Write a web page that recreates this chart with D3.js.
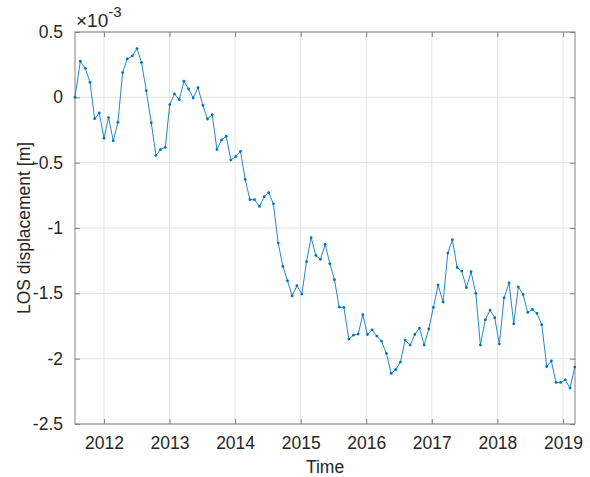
<!DOCTYPE html>
<html>
<head>
<meta charset="utf-8">
<script src="https://cdn.jsdelivr.net/npm/d3@7"></script>
<style>
  body { margin: 0; background: #fff; }
  svg { font-family: "Liberation Sans", Arial, Helvetica, sans-serif; }
</style>
</head>
<body>
<svg width="590" height="477"></svg>
<script>
// acquisition dates (decimal years)
const dates = [
  2011.558, 2011.639, 2011.715, 2011.787, 2011.857, 2011.928, 2012.000, 2012.070, 2012.142, 2012.213,
  2012.284, 2012.355, 2012.431, 2012.503, 2012.573, 2012.645, 2012.721, 2012.793, 2012.863, 2012.935,
  2013.003, 2013.076, 2013.148, 2013.220, 2013.290, 2013.361, 2013.433, 2013.509, 2013.579, 2013.651,
  2013.723, 2013.793, 2013.864, 2013.936, 2014.012, 2014.082, 2014.154, 2014.226, 2014.296, 2014.372,
  2014.444, 2014.512, 2014.584, 2014.657, 2014.729, 2014.799, 2014.870, 2014.942, 2015.018, 2015.089,
  2015.160, 2015.232, 2015.302, 2015.374, 2015.445, 2015.515, 2015.587, 2015.659, 2015.735, 2015.805,
  2015.877, 2015.948, 2016.018, 2016.090, 2016.162, 2016.232, 2016.308, 2016.380, 2016.451, 2016.521,
  2016.593, 2016.669, 2016.741, 2016.811, 2016.883, 2016.954, 2017.024, 2017.096, 2017.172, 2017.244,
  2017.314, 2017.386, 2017.457, 2017.527, 2017.599, 2017.671, 2017.741, 2017.817, 2017.889, 2017.960,
  2018.030, 2018.102, 2018.178, 2018.250, 2018.320, 2018.392, 2018.463, 2018.533, 2018.605, 2018.677,
  2018.753, 2018.823, 2018.895, 2018.966, 2019.036, 2019.108, 2019.180
];

// LOS displacement in units of 1e-3 m
const losDisp = [
   0.000,  0.276,  0.222,  0.115, -0.163, -0.120, -0.314, -0.155, -0.332, -0.191,
   0.189,  0.294,  0.317,  0.373,  0.266,  0.051, -0.194, -0.444, -0.400, -0.383,
  -0.056,  0.026, -0.018,  0.123,  0.064, -0.005,  0.074, -0.061, -0.166, -0.132,
  -0.400, -0.326, -0.298, -0.480, -0.452, -0.413, -0.628, -0.783, -0.783, -0.835,
  -0.760, -0.729, -0.815, -1.115, -1.294, -1.404, -1.520, -1.442, -1.506, -1.258,
  -1.074, -1.210, -1.240, -1.125, -1.273, -1.396, -1.605, -1.608, -1.850, -1.820,
  -1.812, -1.664, -1.815, -1.779, -1.827, -1.865, -1.960, -2.113, -2.083, -2.026,
  -1.858, -1.896, -1.815, -1.766, -1.896, -1.773, -1.608, -1.437, -1.567, -1.192,
  -1.090, -1.302, -1.330, -1.457, -1.335, -1.500, -1.896, -1.702, -1.628, -1.687,
  -1.888, -1.534, -1.421, -1.733, -1.450, -1.508, -1.646, -1.623, -1.654, -1.740,
  -2.060, -2.018, -2.182, -2.182, -2.162, -2.225, -2.064
];

const xTicks = [2012, 2013, 2014, 2015, 2016, 2017, 2018, 2019];
const yTicks = [0.5, 0, -0.5, -1, -1.5, -2, -2.5];

const margin = { left: 75, right: 15, top: 32, bottom: 53 };
const W = 590, H = 477;

const svg = d3.select("svg");

const x = d3.scaleLinear()
    .domain([2011.558, 2019.184])
    .range([margin.left, W - margin.right]);

const y = d3.scaleLinear()
    .domain([-2.5, 0.5])
    .range([H - margin.bottom, margin.top]);

const axisColor = "#808080";
const textColor = "#262626";
const gridColor = "#e3e3e3";

// grid lines
svg.append("g").selectAll("line.gx")
    .data(xTicks)
    .join("line")
    .attr("x1", d => x(d)).attr("x2", d => x(d))
    .attr("y1", y.range()[0]).attr("y2", y.range()[1])
    .attr("stroke", gridColor).attr("stroke-width", 1);

svg.append("g").selectAll("line.gy")
    .data(yTicks)
    .join("line")
    .attr("x1", x.range()[0]).attr("x2", x.range()[1])
    .attr("y1", d => y(d)).attr("y2", d => y(d))
    .attr("stroke", gridColor).attr("stroke-width", 1);

// axes (ticks pointing inward, MATLAB style)
const xAxis = d3.axisBottom(x).tickValues(xTicks).tickFormat(d3.format("d"))
    .tickSizeInner(-5).tickSizeOuter(0).tickPadding(13);
const yAxis = d3.axisLeft(y).tickValues(yTicks).tickFormat(d => d3.format("")(d).replace("−", "-"))
    .tickSizeInner(-5).tickSizeOuter(0).tickPadding(12);

function styleAxis(g) {
    g.select(".domain").remove();
    g.selectAll(".tick line").attr("stroke", axisColor);
    g.selectAll(".tick text")
        .attr("fill", textColor)
        .style("font-size", "17.5px");
}

svg.append("g")
    .attr("transform", `translate(0,${y.range()[0]})`)
    .call(xAxis).call(styleAxis);

svg.append("g")
    .attr("transform", `translate(${x.range()[0]},0)`)
    .call(yAxis).call(styleAxis);

// top and right ticks
svg.append("g")
    .attr("transform", `translate(0,${y.range()[1]})`)
    .call(d3.axisTop(x).tickValues(xTicks).tickFormat("").tickSizeInner(-5).tickSizeOuter(0))
    .call(styleAxis);

svg.append("g")
    .attr("transform", `translate(${x.range()[1]},0)`)
    .call(d3.axisRight(y).tickValues(yTicks).tickFormat("").tickSizeInner(-5).tickSizeOuter(0))
    .call(styleAxis);

// box
svg.append("rect")
    .attr("x", x.range()[0]).attr("y", y.range()[1])
    .attr("width", x.range()[1] - x.range()[0])
    .attr("height", y.range()[0] - y.range()[1])
    .attr("fill", "none")
    .attr("stroke", axisColor)
    .attr("stroke-width", 1);

// series
const pts = dates.map((d, i) => ({ t: d, v: losDisp[i] }));

svg.append("path")
    .datum(pts)
    .attr("d", d3.line().x(d => x(d.t)).y(d => y(d.v)))
    .attr("fill", "none")
    .attr("stroke", "#0072BD")
    .attr("stroke-opacity", 0.85)
    .attr("stroke-width", 1);

svg.append("g").selectAll("circle")
    .data(pts)
    .join("circle")
    .attr("cx", d => x(d.t))
    .attr("cy", d => y(d.v))
    .attr("r", 1.4)
    .attr("fill", "#0072BD");

// exponent label
const expo = svg.append("text")
    .attr("x", 76).attr("y", 27)
    .attr("fill", textColor)
    .style("font-size", "19px");
expo.append("tspan").text("\u00D710");
expo.append("tspan").attr("dy", -10).style("font-size", "15px").text("-3");

// axis titles
svg.append("text")
    .attr("x", (x.range()[0] + x.range()[1]) / 2)
    .attr("y", 473)
    .attr("text-anchor", "middle")
    .attr("fill", textColor)
    .style("font-size", "17.5px")
    .text("Time");

svg.append("text")
    .attr("transform", `translate(30,${(y.range()[0] + y.range()[1]) / 2}) rotate(-90)`)
    .attr("text-anchor", "middle")
    .attr("fill", textColor)
    .style("font-size", "17.5px")
    .text("LOS displacement [m]");
</script>
</body>
</html>
